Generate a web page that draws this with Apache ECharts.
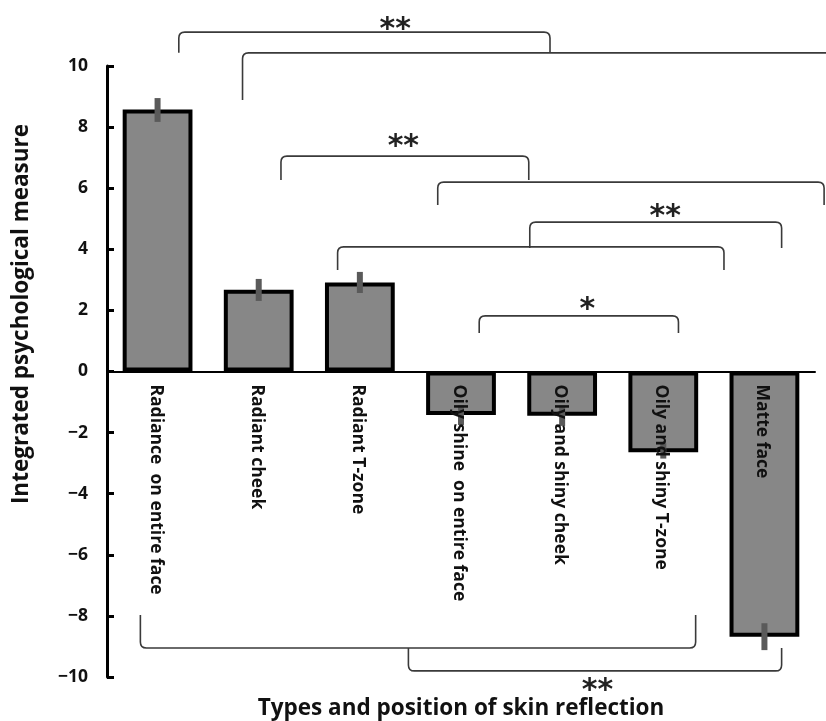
<!DOCTYPE html>
<html>
<head>
<meta charset="utf-8">
<script src="https://cdn.jsdelivr.net/npm/echarts@6/dist/echarts.min.js"></script>
<style>html,body{margin:0;padding:0;background:#fff}#c{width:826px;height:721px}</style>
</head>
<body>
<div id="c"></div>
<script>
// ---- data ----
const categories = ['Radiance  on entire face', 'Radiant cheek', 'Radiant T-zone', 'Oily shine  on entire face', 'Oily and shiny cheek', 'Oily and shiny T-zone', 'Matte face'];
const means = [8.58, 2.68, 2.91, -1.42, -1.45, -2.64, -8.68];
const errLow = [8.17, 2.31, 2.57, -1.75, -1.78, -2.85, -9.12];
const errHigh = [8.95, 3.03, 3.26, -1.10, -1.12, -2.35, -8.24];
const yMin = -10, yMax = 10, yStep = 2;

// significance brackets: x in category-index units, y in measure units
const bracketX1 =   [0.21, 0.84, 1.22, 2.77, 3.68, 1.78, 3.18, -0.17, 2.48];
const bracketX2 =   [3.88, 6.75, 3.67, 6.59, 6.17, 5.60, 5.15, 5.32, 6.17];
const bracketY =    [11.11, 10.43, 7.05, 6.20, 4.89, 4.08, 1.82, -9.05, -9.80];
const bracketLeg1 = [10.43, 8.89, 6.27, 5.45, 4.04, 3.32, 1.26, -7.97, -9.05];
const bracketLeg2 = [10.46, 10.43, 6.27, 5.45, 4.04, 3.32, 1.26, -7.97, -9.05];

const starText = ['**', '**', '**', '*', '**'];
const starX = [2.35, 2.43, 5.02, 4.25, 4.35];
const starY = [11.40, 7.55, 5.27, 2.22, -10.26];

// ---- build ----
const chart = echarts.init(document.getElementById('c'), null, {renderer: 'canvas'});
const FONT = '"Open Sans", "Noto Sans", sans-serif';
const STAR_SIZE = 30;

const bracketData = bracketX1.map((x, i) => [x, bracketX2[i], bracketY[i], bracketLeg1[i], bracketLeg2[i]]);
const starData = starX.map((x, i) => [x, starY[i]]);
const errData = means.map((m, i) => [i, errLow[i], errHigh[i]]);
const labelData = categories.map((c, i) => [i, 0]);

function bracketItem(params, api) {
  const a = api.coord([api.value(0), api.value(2)]);
  const b = api.coord([api.value(1), api.value(2)]);
  const l1 = api.coord([api.value(0), api.value(3)]);
  const l2 = api.coord([api.value(1), api.value(4)]);
  const r = 6;
  const d1 = Math.sign(l1[1] - a[1]);
  const d2 = Math.sign(l2[1] - b[1]);
  const d = 'M' + l1[0] + ' ' + l1[1] +
    ' L' + a[0] + ' ' + (a[1] + d1 * r) +
    ' Q' + a[0] + ' ' + a[1] + ' ' + (a[0] + r) + ' ' + a[1] +
    ' L' + (b[0] - r) + ' ' + b[1] +
    ' Q' + b[0] + ' ' + b[1] + ' ' + b[0] + ' ' + (b[1] + d2 * r) +
    ' L' + l2[0] + ' ' + l2[1];
  return {type: 'path', shape: {pathData: d}, style: {stroke: '#3a3a3a', lineWidth: 1.6, fill: null}};
}

function starItem(params, api) {
  const p = api.coord([api.value(0), api.value(1)]);
  return {type: 'text', x: p[0], y: p[1] + STAR_SIZE * 0.22, style: {text: starText[params.dataIndex], font: 'bold ' + STAR_SIZE + 'px "DejaVu Sans", sans-serif', fill: '#222', align: 'center', verticalAlign: 'middle'}};
}

function errItem(params, api) {
  const lo = api.coord([api.value(0), api.value(1)]);
  const hi = api.coord([api.value(0), api.value(2)]);
  return {type: 'line', shape: {x1: lo[0], y1: lo[1], x2: hi[0], y2: hi[1]}, style: {stroke: '#5a5a5a', lineWidth: 6}};
}

function labelItem(params, api) {
  const p = api.coord([api.value(0), api.value(1)]);
  return {type: 'text', x: p[0] - 2, y: p[1] + 13, rotation: -Math.PI / 2,
    style: {text: categories[params.dataIndex], font: 'bold 17.5px ' + FONT, fill: '#111', align: 'left', verticalAlign: 'middle'}};
}

const option = {
  animation: false,
  grid: {left: 107, right: 11, top: 66, bottom: 44, containLabel: false, outerBoundsMode: 'none'},
  xAxis: [{
    type: 'category', data: categories, z: 4,
    axisLine: {onZero: true, lineStyle: {color: '#000', width: 2}},
    axisTick: {show: false},
    axisLabel: {show: false}
  }, {
    type: 'value', min: -0.5, max: 6.5, show: false
  }],
  yAxis: {
    type: 'value', min: yMin, max: yMax, interval: yStep,
    splitLine: {show: false},
    axisLine: {show: true, onZero: false, lineStyle: {color: '#000', width: 3}},
    axisTick: {show: true, inside: true, length: 7, lineStyle: {color: '#000', width: 3}},
    axisLabel: {margin: 19, color: '#111', fontFamily: FONT, fontWeight: 'bold', fontSize: 17.5,
      formatter: v => v < 0 ? '\u2212' + Math.abs(v) : String(v)}
  },
  graphic: [
    {type: 'text', x: 22, y: 314, rotation: Math.PI / 2, style: {text: 'Integrated psychological measure', font: 'bold 22.5px ' + FONT, fill: '#111', align: 'center', verticalAlign: 'middle', textAlign: 'center', textVerticalAlign: 'middle'}},
    {type: 'text', x: 461, y: 709, style: {text: 'Types and position of skin reflection', font: 'bold 22.5px ' + FONT, fill: '#111', align: 'center', verticalAlign: 'middle', textAlign: 'center', textVerticalAlign: 'middle'}}
  ],
  series: [
    {type: 'bar', data: means, barWidth: '69%', z: 2,
      itemStyle: {color: '#878787', borderColor: '#000', borderWidth: 4}},
    {type: 'custom', data: errData, renderItem: errItem, z: 3, clip: false},
    {type: 'custom', data: labelData, renderItem: labelItem, z: 4, clip: false},
    {type: 'custom', xAxisIndex: 1, data: bracketData, renderItem: bracketItem, z: 5, clip: false},
    {type: 'custom', xAxisIndex: 1, data: starData, renderItem: starItem, z: 5, clip: false}
  ]
};
chart.setOption(option);
</script>
</body>
</html>
